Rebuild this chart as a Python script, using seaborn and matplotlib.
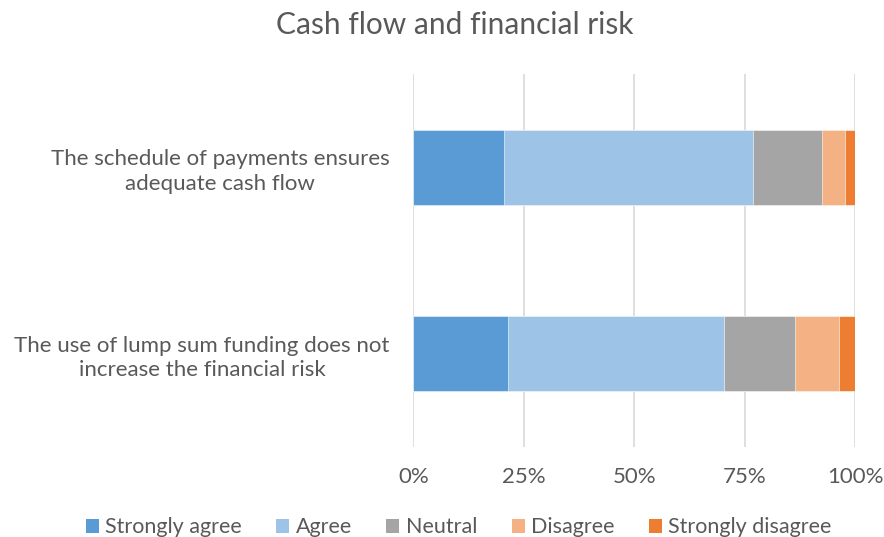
import numpy as np
import pandas as pd
import matplotlib
matplotlib.use("Agg")
import matplotlib.pyplot as plt
import seaborn as sns
from matplotlib.patches import Patch

statements = [
    "The schedule of payments ensures\nadequate cash flow",
    "The use of lump sum funding does not\nincrease the financial risk",
]
levels = ["Strongly agree", "Agree", "Neutral", "Disagree", "Strongly disagree"]
strongly_agree = [20.6, 21.5]
agree = [56.3, 48.8]
neutral = [15.6, 16.1]
disagree = [5.2, 10.0]
strongly_disagree = [2.3, 3.6]
colors = ["#5B9BD5", "#9DC3E6", "#A5A5A5", "#F4B183", "#ED7D31"]
text_grey = "#595959"

sns.set_theme(style="white")
plt.rcParams["font.family"] = ["Lato", "DejaVu Sans"]

df = pd.DataFrame({
    "statement": statements,
    "Strongly agree": strongly_agree,
    "Agree": agree,
    "Neutral": neutral,
    "Disagree": disagree,
    "Strongly disagree": strongly_disagree,
})
cum = df[levels].cumsum(axis=1)

fig = plt.figure(figsize=(8.84, 5.37), dpi=100)
ax = fig.add_axes([0.4675, 0.1685, 0.4997, 0.6928])

# draw cumulative totals from the widest down so each layer shows its segment
for level, color in reversed(list(zip(levels, colors))):
    sns.barplot(x=cum[level], y=df["statement"], orient="h", color=color,
                width=0.4, saturation=1, edgecolor="white", linewidth=0.4, ax=ax, zorder=3)

ax.set_xlim(0, 100)
ax.set_xticks([0, 25, 50, 75, 100])
ax.set_xticklabels(["0%", "25%", "50%", "75%", "100%"])
ax.xaxis.grid(True, color="#D9D9D9", linewidth=1.2, zorder=0)
ax.yaxis.grid(False)
for s in ax.spines.values():
    s.set_visible(False)
ax.set_xlabel("")
ax.set_ylabel("")
ax.tick_params(axis="x", length=0, pad=15, labelsize=16, labelcolor=text_grey)
ax.tick_params(axis="y", length=0, pad=17, labelsize=16, labelcolor=text_grey)
for lbl in ax.get_yticklabels():
    lbl.set_multialignment("center")
    lbl.set_linespacing(1.3)

fig.suptitle("Cash flow and financial risk", x=0.514, y=0.98, fontsize=21.5, color=text_grey)

handles = [Patch(facecolor=c, edgecolor="none", label=l) for l, c in zip(levels, colors)]
fig.legend(handles=handles, loc="lower center", bbox_to_anchor=(0.519, -0.037), ncol=5,
           frameon=False, fontsize=15.5, handlelength=0.6, handleheight=0.6,
           handletextpad=0.3, columnspacing=1.6, labelcolor=text_grey)

fig.savefig("out.png", dpi=100)
